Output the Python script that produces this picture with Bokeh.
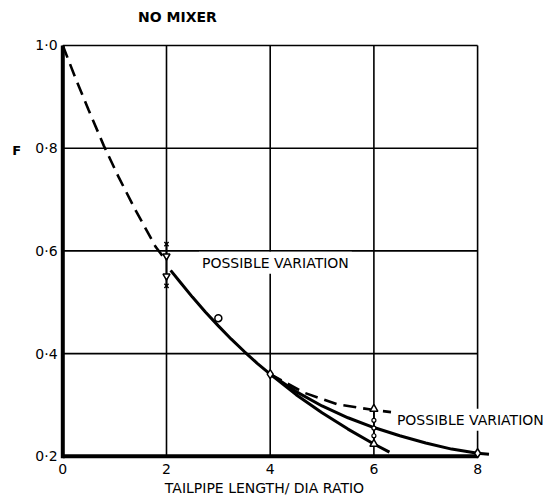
from bokeh.plotting import figure
from bokeh.models import Range1d, Label
from bokeh.core.properties import value
from bokeh.embed import file_html
from bokeh.resources import INLINE

# ---- data ----
# dashed extrapolation from origin to L/D = 2
dash0_x = [0.0, 0.25, 0.50, 0.79, 1.08, 1.40, 1.79, 2.00]
dash0_y = [1.0, 0.935, 0.874, 0.805, 0.743, 0.680, 0.608, 0.580]
# main solid curve from L/D = 2 to 4
main_x = [2.08, 2.25, 2.50, 2.75, 3.00, 3.25, 3.50, 3.75, 4.00]
main_y = [0.562, 0.541, 0.510, 0.481, 0.454, 0.428, 0.404, 0.381, 0.360]
# upper solid branch to L/D = 8
upper_x = [4.00, 4.50, 5.00, 5.50, 6.00, 6.50, 7.00, 7.50, 8.00, 8.22]
upper_y = [0.360, 0.326, 0.298, 0.275, 0.256, 0.240, 0.226, 0.214, 0.206, 0.204]
# lower solid branch to L/D = 6.3
lower_x = [4.00, 4.50, 5.00, 5.50, 6.00, 6.30]
lower_y = [0.360, 0.320, 0.285, 0.253, 0.224, 0.208]
# dashed branch beyond L/D = 4
dash1_x = [4.00, 4.65, 5.30, 5.94, 6.33]
dash1_y = [0.360, 0.324, 0.301, 0.291, 0.286]

# measured points
circ_x = [3.0]
circ_y = [0.469]
diam_x = [4.0, 8.0]
diam_y = [0.360, 0.206]

# spread at L/D = 2
var2_x = [2.0, 2.0]
var2_y = [0.532, 0.613]
var2_tri_y = [0.590, 0.551]
# spread at L/D = 6
var6_x = [6.0, 6.0]
var6_y = [0.222, 0.295]
var6_tri_y = [0.292, 0.224]
var6_dot_y = [0.270, 0.255, 0.240]

x_ticks = [0, 2, 4, 6, 8]
x_labels = ["0", "2", "4", "6", "8"]
y_ticks = [0.2, 0.4, 0.6, 0.8, 1.0]
y_labels = ["0·2", "0·4", "0·6", "0·8", "1·0"]
x_grid = [2, 4, 6, 8]
y_grid = [0.4, 0.6, 0.8, 1.0]

FONT = "DejaVu Sans"
X0, X1 = x_ticks[0], x_ticks[-1]
Y0, Y1 = y_ticks[0], y_ticks[-1]

p = figure(width=546, height=496, output_backend="svg", toolbar_location=None,
           x_range=Range1d(-1.2015, 9.329), y_range=Range1d(0.1217, 1.0876),
           x_axis_location=None, y_axis_location=None,
           min_border=0)
p.outline_line_color = None
p.background_fill_color = "white"
p.grid.visible = False

# grid lines
p.segment(x0=x_grid, y0=[Y0] * len(x_grid), x1=x_grid, y1=[Y1] * len(x_grid),
          line_color="black", line_width=1.6)
p.segment(x0=[X0] * len(y_grid), y0=y_grid, x1=[X1] * len(y_grid), y1=y_grid,
          line_color="black", line_width=1.6)
# axes (thick)
p.segment(x0=[X0], y0=[Y0 - 0.004], x1=[X0], y1=[Y1], line_color="black", line_width=4)
p.segment(x0=[X0], y0=[Y0], x1=[X1], y1=[Y0], line_color="black", line_width=4)

# tick labels
p.text(x=x_ticks, y=[Y0 - 0.024] * len(x_ticks), text=x_labels,
       text_font=value(FONT), text_font_size="14px", text_align="center",
       text_baseline="middle", text_color="black")
p.text(x=[X0 - 0.10] * len(y_ticks), y=y_ticks, text=y_labels,
       text_font=value(FONT), text_font_size="14px", text_align="right",
       text_baseline="middle", text_color="black")

# curves
p.line(dash0_x, dash0_y, line_color="black", line_width=2.6, line_dash="13 7")
p.line(main_x, main_y, line_color="black", line_width=3)
p.line(upper_x, upper_y, line_color="black", line_width=3)
p.line(lower_x, lower_y, line_color="black", line_width=3)
p.line(dash1_x, dash1_y, line_color="black", line_width=2.6, line_dash="13 7")

# points
p.scatter(circ_x, circ_y, marker="circle", size=7, fill_color="white",
          line_color="black", line_width=1.5)
p.scatter(diam_x, diam_y, marker="diamond", size=9, fill_color="white",
          line_color="black", line_width=1.5)

# variation bars
p.line(var2_x, var2_y, line_color="black", line_width=1.8)
p.scatter([2.0, 2.0], var2_y, marker="x", size=6, line_color="black", line_width=1.5)
p.scatter([2.0, 2.0], var2_tri_y, marker="inverted_triangle", size=7,
          fill_color="white", line_color="black", line_width=1.5)
p.line(var6_x, var6_y, line_color="black", line_width=1.8)
p.scatter([6.0, 6.0], var6_tri_y, marker="triangle", size=8, fill_color="white",
          line_color="black", line_width=1.5)
p.scatter([6.0] * 3, var6_dot_y, marker="circle", size=4, fill_color="white",
          line_color="black", line_width=1.2)

# texts
lab_kw = dict(text_font=FONT, text_color="black", text_baseline="middle",
              text_align="center")
p.add_layout(Label(x=4.10, y=0.577, text="POSSIBLE VARIATION", text_font_size="14px",
                   background_fill_color="white", padding=3, **lab_kw))
p.add_layout(Label(x=7.86, y=0.271, text="POSSIBLE VARIATION", text_font_size="14px",
                   background_fill_color="white", padding=3, **lab_kw))
p.add_layout(Label(x=2.21, y=1.055, text="NO MIXER", text_font_size="14px",
                   text_font_style="bold", **lab_kw))
p.add_layout(Label(x=-0.89, y=0.795, text="F", text_font_size="13px",
                   text_font_style="bold", **lab_kw))
p.add_layout(Label(x=3.89, y=0.139, text="TAILPIPE LENGTH/ DIA RATIO",
                   text_font_size="14px", **lab_kw))

open("out.html", "w").write(file_html(p, INLINE))
